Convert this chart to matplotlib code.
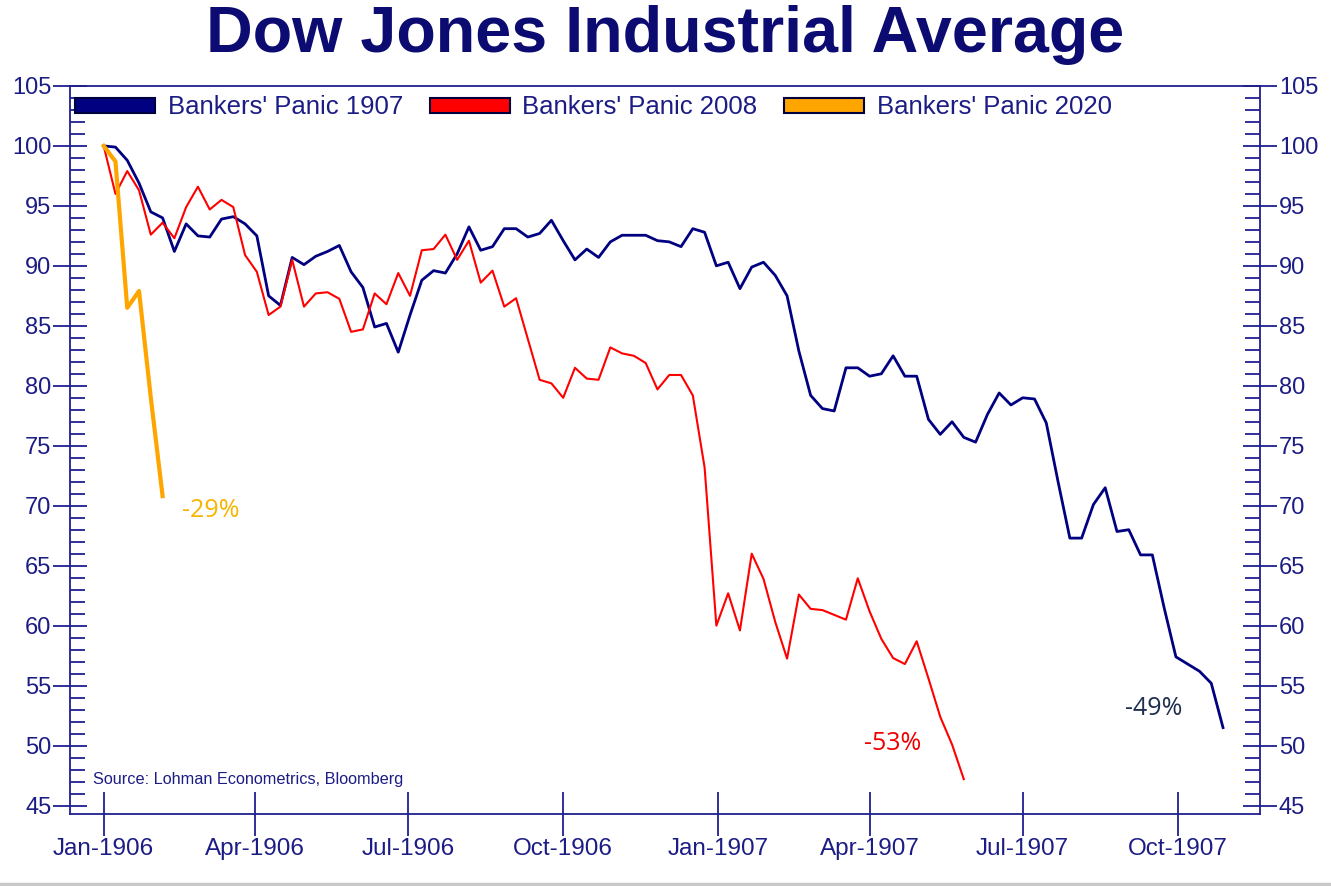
import numpy as np
import matplotlib
matplotlib.use("Agg")
import matplotlib.pyplot as plt
import matplotlib.dates as mdates
from matplotlib.patches import Patch
from matplotlib.ticker import MultipleLocator
from matplotlib.lines import Line2D

# ---------------- data (weekly, indexed to 100) ----------------
start_date = np.datetime64("1906-01-01")

panic_1907 = [100.0, 99.9, 98.8, 96.9, 94.5, 94.0, 91.2, 93.5, 92.5, 92.4,
              93.9, 94.1, 93.5, 92.5, 87.5, 86.7, 90.7, 90.1, 90.8, 91.2,
              91.7, 89.5, 88.2, 84.9, 85.2, 82.8, 85.9, 88.8, 89.6, 89.4,
              91.0, 93.25, 91.3, 91.6, 93.1, 93.1, 92.4, 92.7, 93.8, 92.1,
              90.5, 91.4, 90.7, 92.0, 92.55, 92.55, 92.55, 92.1, 92.0, 91.6,
              93.1, 92.8, 90.0, 90.3, 88.1, 89.9, 90.3, 89.2, 87.5, 82.9,
              79.2, 78.1, 77.9, 81.5, 81.5, 80.8, 81.0, 82.5, 80.8, 80.8,
              77.2, 75.95, 77.0, 75.7, 75.3, 77.6, 79.4, 78.4, 79.0, 78.9,
              76.9, 72.0, 67.3, 67.3, 70.1, 71.5, 67.85, 68.0, 65.9, 65.9,
              61.5, 57.4, 56.8, 56.2, 55.2, 51.5]

panic_2008 = [100.0, 96.0, 97.9, 96.3, 92.6, 93.6, 92.3, 94.9, 96.6, 94.7,
              95.5, 94.9, 90.9, 89.5, 85.9, 86.6, 90.5, 86.6, 87.7, 87.8,
              87.25, 84.5, 84.7, 87.7, 86.8, 89.4, 87.5, 91.3, 91.4, 92.6,
              90.5, 92.1, 88.6, 89.6, 86.6, 87.3, 83.9, 80.5, 80.2, 79.0,
              81.5, 80.6, 80.5, 83.2, 82.7, 82.5, 81.9, 79.7, 80.9, 80.9,
              79.2, 73.2, 60.0, 62.7, 59.6, 66.0, 63.9, 60.3, 57.25, 62.6,
              61.4, 61.3, 60.9, 60.5, 63.95, 61.2, 58.9, 57.3, 56.8, 58.7,
              55.6, 52.4, 50.1, 47.2]

panic_2020 = [100.0, 98.7, 86.5, 87.9, 79.0, 70.8]

series_labels = ["Bankers' Panic 1907", "Bankers' Panic 2008", "Bankers' Panic 2020"]
end_labels = ["-49%", "-53%", "-29%"]
tick_dates = ["1906-01-01", "1906-04-01", "1906-07-01", "1906-10-01",
              "1907-01-01", "1907-04-01", "1907-07-01", "1907-10-01"]
tick_labels = ["Jan-1906", "Apr-1906", "Jul-1906", "Oct-1906",
               "Jan-1907", "Apr-1907", "Jul-1907", "Oct-1907"]


def weekly_dates(n):
    return start_date + np.arange(n) * np.timedelta64(7, "D")


NAVY = "#000080"
AXC = "#1f1f90"
TXT = "#1c1c85"

fig = plt.figure(figsize=(13.31, 8.86), dpi=100)
ax = fig.add_axes([0.0526, 0.0813, 0.8941, 0.8217])

ax.plot(weekly_dates(len(panic_1907)), panic_1907, color=NAVY, lw=2.0, zorder=3)
ax.plot(weekly_dates(len(panic_2008)), panic_2008, color="#ff0000", lw=1.5, zorder=4)
ax.plot(weekly_dates(len(panic_2020)), panic_2020, color="#ffa500", lw=3.0, zorder=5)

ax.set_xlim(np.datetime64("1905-12-12"), np.datetime64("1907-11-19"))
ax.set_ylim(44.3, 105)

# spines
for s in ax.spines.values():
    s.set_color(AXC)
    s.set_linewidth(1.3)

# x ticks
ax.set_xticks([mdates.date2num(np.datetime64(d)) for d in tick_dates])
ax.set_xticklabels(tick_labels)
ax.tick_params(axis="x", which="major", direction="inout", length=32, width=1.3,
               color=AXC, labelcolor=TXT, labelsize=17.5, pad=1)
ax.tick_params(axis="x", which="minor", bottom=False)

# y ticks both sides
ax.yaxis.set_major_locator(MultipleLocator(5))
ax.yaxis.set_minor_locator(MultipleLocator(1))
ax.tick_params(axis="y", which="major", direction="inout", length=25, width=1.3,
               color=AXC, labelcolor=TXT, labelsize=17, left=True, right=True,
               labelleft=True, labelright=True, pad=1)
ax.tick_params(axis="y", which="minor", direction="in", length=11, width=1.3,
               color=AXC, left=True, right=True)
for lab in ax.get_xticklabels() + ax.get_yticklabels():
    lab.set_family("Liberation Sans")

# title
fig.text(0.5, 0.96, "Dow Jones Industrial Average", ha="center", va="center",
         fontsize=46.5, fontweight="bold", color="#0b0b72", family="Liberation Sans")

# legend
handles = [Patch(facecolor=NAVY, edgecolor="#000040", lw=1.5),
           Patch(facecolor="#ff0000", edgecolor="#000040", lw=1.5),
           Patch(facecolor="#ffa500", edgecolor="#000040", lw=1.5)]
leg = ax.legend(handles, series_labels, loc="upper left", bbox_to_anchor=(0.0, 0.994),
                ncol=3, frameon=False, handlelength=3.1, handleheight=0.55,
                handletextpad=0.5, columnspacing=1.05, borderaxespad=0.0,
                borderpad=0.2, prop={"family": "Liberation Sans", "size": 18.5})
for t in leg.get_texts():
    t.set_color(TXT)

# end annotations
ann_font = ["Open Sans", "DejaVu Sans"]
ax.annotate(end_labels[2], (weekly_dates(len(panic_2020))[-1], panic_2020[-1]),
            xytext=(14, -10), textcoords="offset points", color="#f7b500",
            fontsize=18, family=ann_font, ha="left", va="center")
ax.annotate(end_labels[1], (weekly_dates(len(panic_2008))[-1], panic_2008[-1]),
            xytext=(-31, 26), textcoords="offset points", color="#ee0000",
            fontsize=18, family=ann_font, ha="right", va="center")
ax.annotate(end_labels[0], (weekly_dates(len(panic_1907))[-1], panic_1907[-1]),
            xytext=(-29, 14), textcoords="offset points", color="#1f2f4f",
            fontsize=18, family=ann_font, ha="right", va="center")

# source
ax.text(0.019, 0.047, "Source: Lohman Econometrics, Bloomberg", transform=ax.transAxes,
        fontsize=11.7, color=TXT, family="Liberation Sans",
        ha="left", va="center")

# bottom grey border
fig.add_artist(Line2D([0, 1], [0.0025, 0.0025], transform=fig.transFigure,
                      color="#c8c8c8", lw=2.5))

fig.savefig("out.png", dpi=100)
